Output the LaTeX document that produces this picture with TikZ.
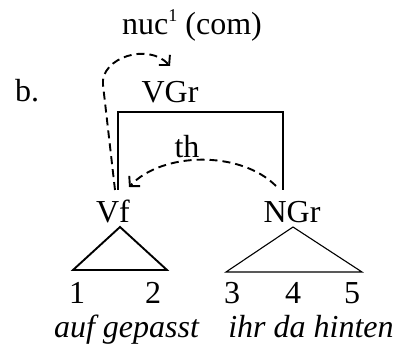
\documentclass[tikz,border=0pt]{standalone}
\usepackage{fontspec}
\setmainfont{Liberation Serif}
\usetikzlibrary{arrows.meta}
\begin{document}
\begin{tikzpicture}[x=1pt,y=-1pt,
  lbl/.style={font=\fontsize{32}{38}\selectfont, inner sep=0pt, anchor=base},
  dep/.style={line width=1.9pt, dash pattern=on 8pt off 5pt, -{Straight Barb[length=7pt,width=15pt,line width=1.9pt]}},
  solidline/.style={line width=1.9pt},
  thinline/.style={line width=1.1pt}]
\useasboundingbox (0,0) rectangle (409,352);
\node[lbl, anchor=base west] (b) at (15,102) {b.};
\node[lbl] (nuc) at (192,35) {nuc\raisebox{0.42em}{\fontsize{18}{20}\selectfont 1} (com)};
\node[lbl] (vgr) at (170,103) {VGr};
\node[lbl] (th) at (187,158) {th};
\node[lbl] (vf) at (113,223) {Vf};
\node[lbl] (ngr) at (292,223) {NGr};
\node[lbl] (n1) at (77,303) {1};
\node[lbl] (n2) at (153,303) {2};
\node[lbl] (n3) at (232,303) {3};
\node[lbl] (n4) at (293,303) {4};
\node[lbl] (n5) at (352,303) {5};
\node[lbl] (w1) at (126.5,337) {\itshape auf gepasst};
\node[lbl] (w2) at (311,337) {\itshape ihr da hinten};
% box coordinates
\coordinate (bl) at (118,190);
\coordinate (tl) at (118,112);
\coordinate (tr) at (283,112);
\coordinate (br) at (283,190);
\draw[solidline] (bl) -- (tl) -- (tr) -- (br);
% triangles
\coordinate (la) at (120,227);
\coordinate (lb) at (73,270);
\coordinate (lc) at (167,270);
\draw[solidline, line join=miter] (la) -- (lb) -- (lc) -- cycle;
\coordinate (ra) at (293,227);
\coordinate (rb) at (226,272);
\coordinate (rc) at (362,272);
\draw[thinline] (ra) -- (rb) -- (rc) -- cycle;
% dependency arrows
\coordinate (nucs) at (115,190);
\coordinate (nucm) at (103,85);
\coordinate (nuce) at (170,66);
\draw[dep] (nucs) -- (nucm) .. controls (100,58) and (148,42) .. (nuce);
\coordinate (ths) at (276,186);
\coordinate (the) at (129,187);
\draw[dep] (ths) .. controls (240,150) and (162,152) .. (the);
\end{tikzpicture}
\end{document}
